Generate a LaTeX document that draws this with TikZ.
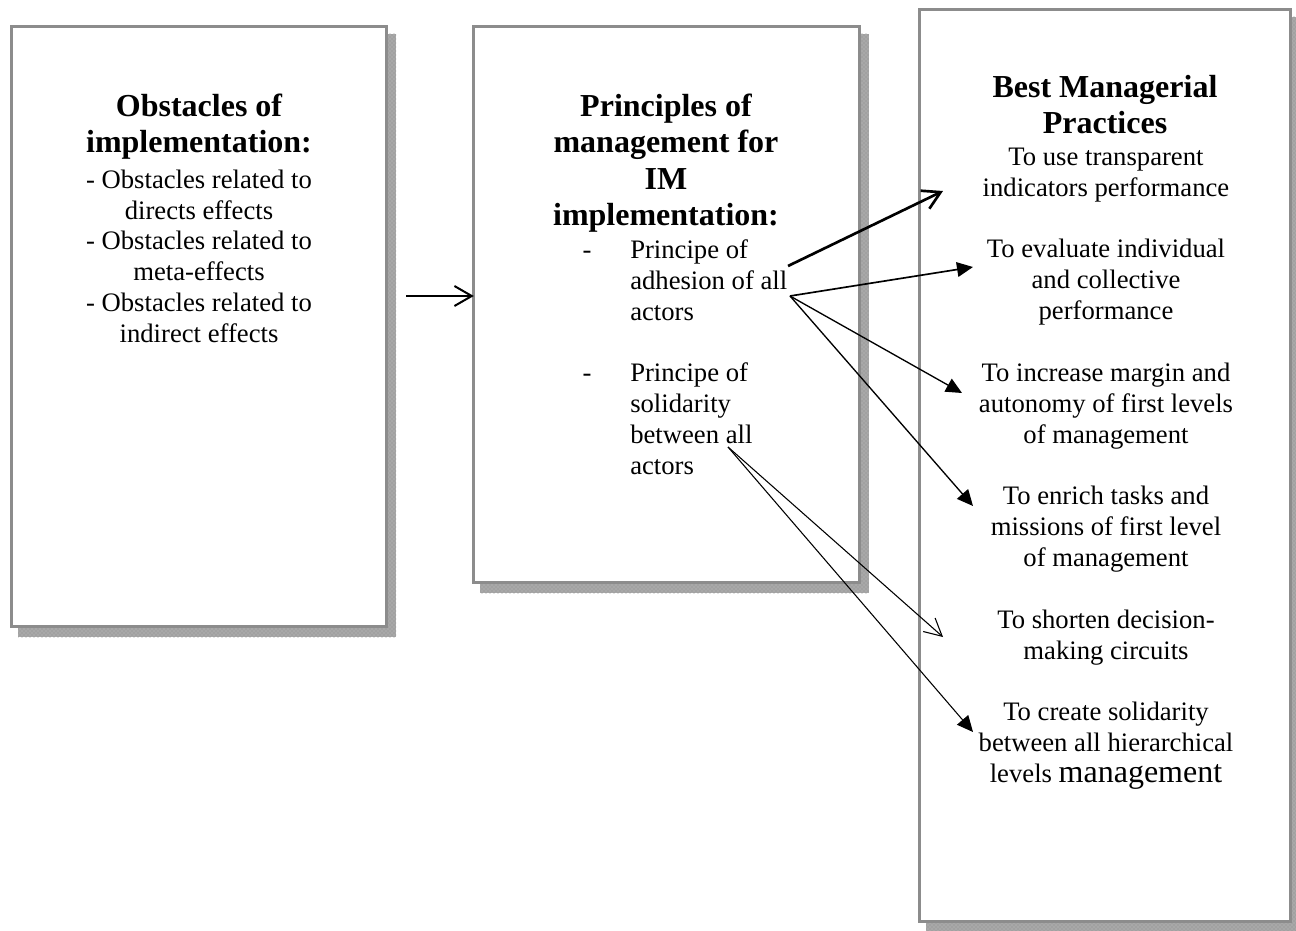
\documentclass[tikz,border=0pt]{standalone}
\usepackage{fontspec}
\setmainfont{Liberation Serif}
\usetikzlibrary{arrows.meta,patterns}
\definecolor{bordergray}{RGB}{140,140,140}
\definecolor{shadowgray}{RGB}{168,168,168}
\newcommand\bodyfs{\fontsize{20pt}{23.15pt}\selectfont}
\newcommand\titlefs{\fontsize{24pt}{27.4pt}\selectfont\bfseries}
\newcommand\dashitem{\llap{-\hspace{29pt}}}
\begin{document}
\begin{tikzpicture}[x=0.75pt,y=-0.75pt,
  panel/.style={draw=bordergray, line width=2.5pt, fill=white, inner sep=0pt, outer sep=0pt},
  shade/.style={fill=shadowgray, draw=none},
  shadedots/.style={pattern=crosshatch dots, pattern color=black!45},
  titletext/.style={font=\titlefs, align=center, inner sep=0pt, anchor=north},
  bodytext/.style={font=\bodyfs, align=center, inner sep=0pt, anchor=north},
  conn/.style={draw=black, line cap=butt},
  openhead/.style={-{Straight Barb[length=13pt,width=15pt]}},
  thinopen/.style={-{Straight Barb[length=13pt,width=13.5pt]}},
  solidhead/.style={-{Triangle[length=12pt,width=11pt]}}
]
\useasboundingbox (0,0) rectangle (1296,931);

% shadows
\fill[shade] (18,34) rectangle (396,637);
\fill[shadedots] (18,34) rectangle (396,637);
\fill[shade] (480,34) rectangle (869,593);
\fill[shadedots] (480,34) rectangle (869,593);
\fill[shade] (926,17) rectangle (1300,935);
\fill[shadedots] (926,17) rectangle (1300,935);

% panels
\node[panel, minimum width=280.9pt, minimum height=449.6pt] (b1) at (199,326.5) {};
\node[panel, minimum width=289.1pt, minimum height=416.6pt] (b2) at (666.5,304.5) {};
\node[panel, minimum width=277.9pt, minimum height=683.6pt] (b3) at (1105,465.5) {};

% box 1 text
\node[titletext] (t1) at (199,84) {\rule{0pt}{24pt}Obstacles of\\implementation:};
\node[bodytext] (l1) at (199,161.33) {\rule{0pt}{20pt}- Obstacles related to\\directs effects\\- Obstacles related to\\meta-effects\\- Obstacles related to\\indirect effects};

% box 2 text
\node[titletext] (t2) at (666,84) {\rule{0pt}{24pt}Principles of\\management for\\IM\\implementation:};
\node[font=\bodyfs, align=left, inner sep=0pt, anchor=north west] (l2) at (630,231.33)
  {\rule{0pt}{20pt}\dashitem Principe of\\adhesion of all\\actors\\[23.15pt]\dashitem Principe of\\solidarity\\between all\\actors};

% box 3 text
\node[titletext] (t3) at (1105,65) {\rule{0pt}{24pt}Best Managerial\\Practices};
\node[bodytext] (l3) at (1106,138.33) {\rule{0pt}{20pt}To use transparent\\indicators performance\\[23.15pt]To evaluate individual\\and collective\\performance\\[23.15pt]To increase margin and\\autonomy of first levels\\of management\\[23.15pt]To enrich tasks and\\missions of first level\\of management\\[23.15pt]To shorten decision-\\making circuits\\[23.15pt]To create solidarity\\between all hierarchical\\levels {\fontsize{24pt}{23.15pt}\selectfont management}};

% connector end points
\coordinate (a0s) at (406,296);
\coordinate (p1) at (788,266);
\coordinate (p2) at (790,296);
\coordinate (p3) at (728,447);
\coordinate (q1) at (943,191);
\coordinate (q2) at (973,267);
\coordinate (q3) at (962,393);
\coordinate (q4) at (973,506);
\coordinate (q5) at (943,637);
\coordinate (q6) at (973,732);

% connectors
\draw[conn, openhead, line width=1.5pt] (a0s) -- (b2.west |- a0s);
\draw[conn, openhead, line width=2pt] (p1) -- (q1);
\draw[conn, solidhead, line width=1.25pt] (p2) -- (q2);
\draw[conn, solidhead, line width=1pt] (p2) -- (q3);
\draw[conn, solidhead, line width=1pt] (p2) -- (q4);
\draw[conn, thinopen, line width=0.8pt] (p3) -- (q5);
\draw[conn, solidhead, line width=0.8pt] (p3) -- (q6);
\end{tikzpicture}
\end{document}
